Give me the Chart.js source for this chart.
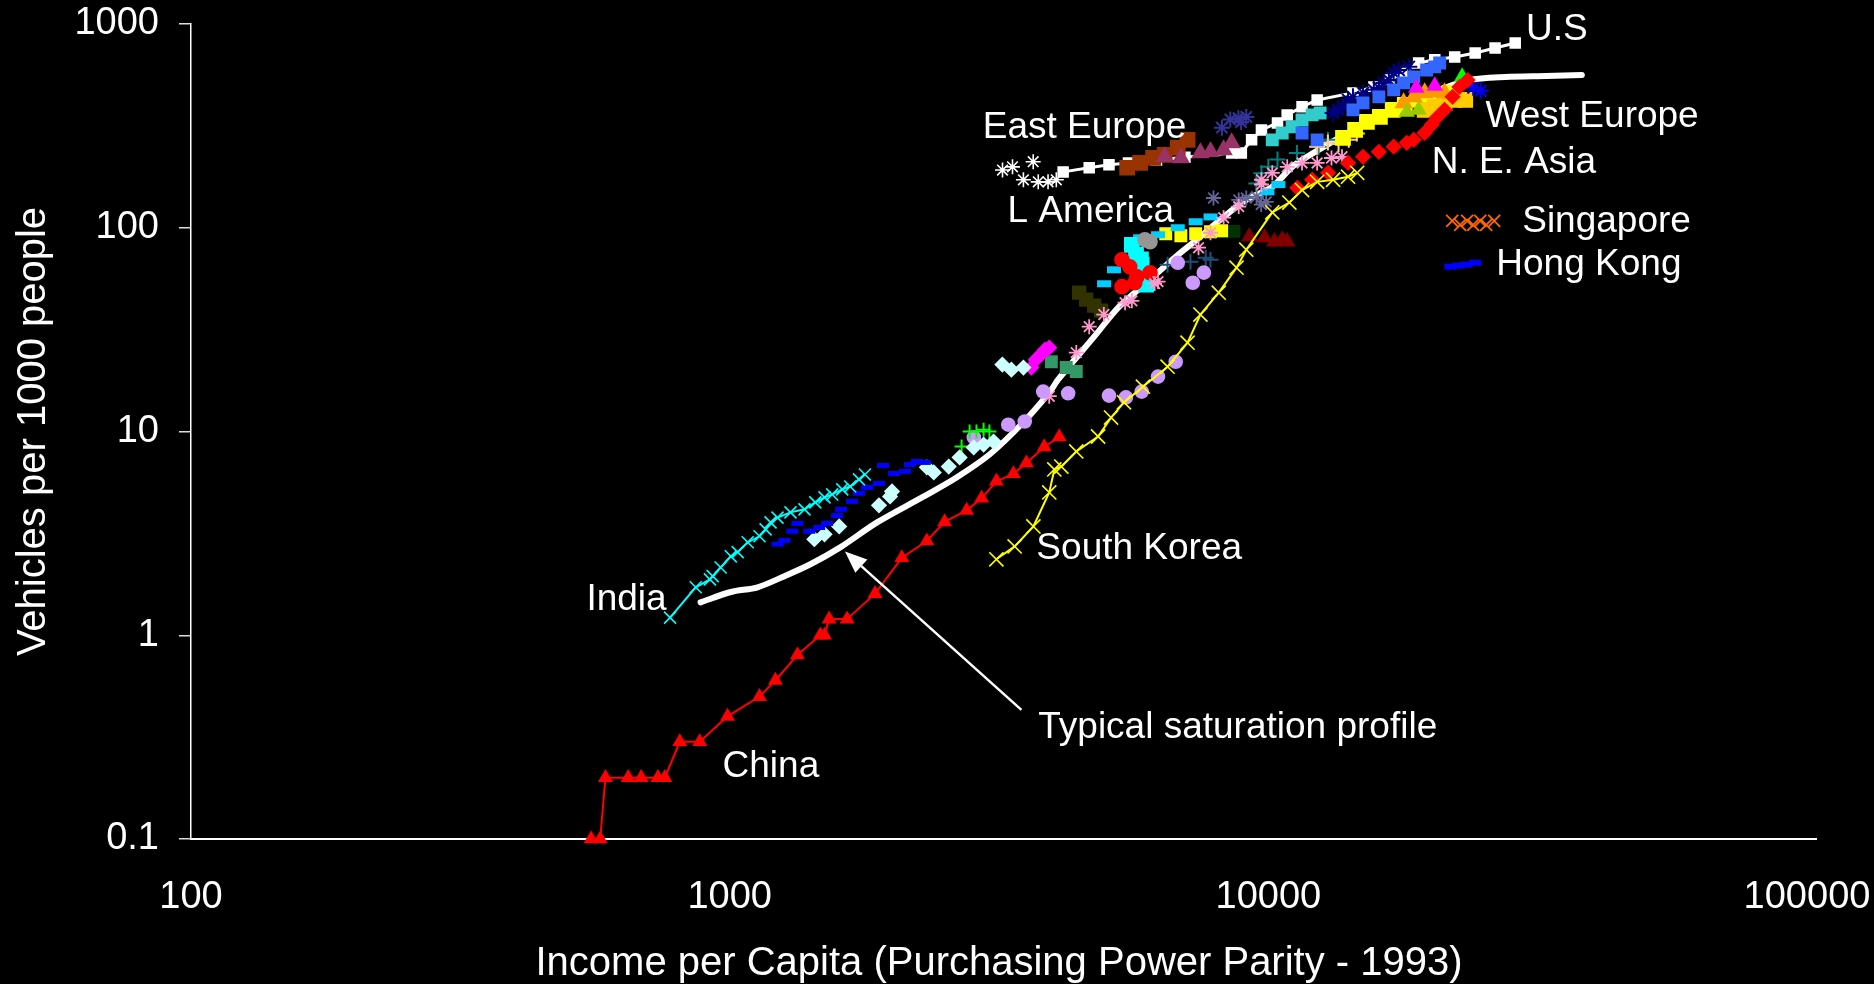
<!DOCTYPE html>
<html>
<head>
<meta charset="utf-8">
<title>Vehicles per 1000 people vs income</title>
<script src="https://cdn.jsdelivr.net/npm/chart.js@4.4.1/dist/chart.umd.min.js"></script>
<style>
  html, body { margin: 0; padding: 0; background: #000; }
</style>
</head>
<body>
<canvas id="ownershipChart" width="1874" height="984"></canvas>
<script>
const xTicks = [100, 1000, 10000, 100000];
const yTicks = [0.1, 1, 10, 100, 1000];

// typical saturation profile (line only)
const profileX = [883, 1005, 1127, 1264, 1412, 1604, 1878, 2293, 2638, 3037, 3510, 3920, 4074, 4750, 5285, 6030, 6730, 7480, 8260, 9100, 10170, 11070, 11800, 13870, 17180, 20370, 23610, 27540, 32810, 38190];
const profileY = [1.45, 1.63, 1.72, 1.95, 2.23, 2.70, 3.58, 4.80, 5.95, 7.71, 11.1, 15.5, 18.0, 29.2, 41.0, 55.6, 72.1, 90.3, 113, 137, 159, 199, 223, 286, 379, 464, 531, 550, 556, 562];

const usX = [4160, 4650, 5060, 5500, 6200, 7000, 8550, 8910, 9310, 9710, 10400, 10840, 11550, 12320, 14360, 15700, 16750, 17830, 19010, 20370, 22180, 24210, 26360, 28730];
const usY = [188, 197, 204, 208, 215, 222, 233, 233, 270, 302, 327, 358, 392, 424, 459, 491, 531, 575, 644, 667, 689, 721, 762, 807];

const chinaX = [553, 575, 588, 648, 685, 736, 758, 808, 880, 991, 1136, 1216, 1336, 1473, 1500, 1530, 1652, 1862, 2088, 2323, 2506, 2754, 2936, 3127, 3363, 3555, 3837, 4090];
const chinaY = [0.1, 0.1, 0.2, 0.2, 0.2, 0.2, 0.2, 0.3, 0.3, 0.4, 0.5, 0.6, 0.8, 1.0, 1.0, 1.2, 1.2, 1.6, 2.4, 2.9, 3.6, 4.1, 4.7, 5.7, 6.2, 7.0, 8.4, 9.4];

const indiaX = [775, 865, 919, 930, 962, 1005, 1035, 1080, 1136, 1166, 1191, 1227, 1297, 1377, 1442, 1500, 1550, 1618, 1674, 1738, 1783];
const indiaY = [1.22, 1.72, 1.88, 1.95, 2.15, 2.44, 2.56, 2.86, 3.06, 3.31, 3.58, 3.78, 4.01, 4.15, 4.49, 4.75, 4.91, 5.20, 5.37, 5.82, 6.15];

const koreaX = [3127, 3381, 3663, 3920, 4006, 4128, 4400, 4830, 5105, 5395, 5850, 6500, 7080, 7480, 8090, 8730, 9100, 10170, 10940, 11550, 12320, 13190, 14060, 14620];
const koreaY = [2.36, 2.73, 3.42, 5.02, 6.51, 6.73, 7.98, 9.45, 11.7, 13.9, 16.6, 20.8, 27.3, 37.5, 48.0, 63.7, 78.0, 119, 133, 153, 168, 172, 178, 186];

const neAsiaX = [11320, 12060, 12910, 14060, 14990, 16040, 17090, 18070, 18620, 19510, 20100, 20530, 21240, 21980, 22630, 23440];
const neAsiaY = [157, 172, 186, 208, 223, 236, 250, 261, 270, 292, 320, 346, 379, 439, 491, 531];

const blueDashX = [1227, 1264, 1307, 1336, 1406, 1466, 1517, 1583, 1611, 1687, 1738, 1800, 1893, 1926, 2019, 2116, 2162, 2227, 2303];
const blueDashY = [2.80, 2.92, 3.24, 3.54, 3.24, 3.38, 3.54, 3.87, 4.15, 4.54, 4.97, 5.31, 5.56, 6.81, 6.22, 6.37, 6.89, 7.13, 7.05];

const paleDiamondX = [1436, 1500, 1597, 1893, 1985, 2002, 2323, 2393, 2551, 2673, 2838, 2961, 3090, 3208, 3334, 3510];
const paleDiamondY = [2.96, 3.13, 3.42, 4.34, 4.80, 5.08, 6.67, 6.30, 6.73, 7.46, 8.35, 8.63, 8.93, 21.3, 20.1, 20.6];

const eastStarX = [3210, 3350, 3510, 3660, 3740, 3900, 4040];
const eastStarY = [192, 199, 172, 211, 168, 168, 172];

const brownX = [5470, 5780, 6110, 6420, 6790, 7080];
const brownY = [197, 208, 220, 228, 247, 270];

const plumX = [6420, 6880, 7480, 7810, 8260, 8550];
const plumY = [223, 220, 233, 236, 241, 261];

const indigoX = [8200, 8500, 8800, 8900, 9100];
const indigoY = [310, 340, 345, 330, 350];

const turquoiseX = [10170, 10610, 11070, 11550, 12060, 12480];
const turquoiseY = [270, 292, 313, 338, 358, 366];

const tealX = [9500, 9710, 10000, 10400, 11300, 12400, 12900];
const tealY = [165, 185, 199, 216, 233, 250, 270];

const peachX = [12320, 12900, 13500, 14100, 14600];
const peachY = [250, 262, 258, 270, 290];

const pinkX = [3920, 4400, 4650, 4950, 5420, 5580, 6150, 6240, 7420, 7810, 8260, 8810, 9710, 9710, 10170, 10840, 11550, 12320, 13100, 13700];
const pinkY = [14.9, 24.4, 32.7, 37.5, 42.9, 43.8, 53.2, 54.4, 79.8, 94.5, 112, 127, 163, 172, 186, 199, 208, 208, 220, 223];

const lavenderX = [2840, 3290, 3530, 3820, 4250, 5060, 5440, 5820, 6240, 6730, 6790, 7240, 7590];
const lavenderY = [9.35, 10.8, 11.2, 15.7, 15.4, 15.0, 14.7, 15.7, 18.6, 22.0, 67.3, 53.7, 60.2];

const greenPlusX = [2695, 2789, 2872, 2961, 3035];
const greenPlusY = [8.44, 10.0, 10.0, 10.2, 10.0];

const magentaX = [3631, 3700, 3791, 3850, 3920];
const magentaY = [20.6, 22.5, 24.0, 25.2, 25.8];

const seaGreenX = [3955, 4215, 4400];
const seaGreenY = [22.0, 20.6, 19.7];

const oliveX = [4454, 4590, 4750, 4890];
const oliveY = [48.0, 44.4, 41.5, 39.2];

const redDotX = [5350, 5530, 5700, 5350, 5650, 6030];
const redDotY = [69.7, 64.4, 57.5, 51.4, 53.7, 60.1];

const cyanBlockX = [5580, 5680, 5820, 5870, 5930, 5800];
const cyanBlockY = [82.5, 73.7, 65.9, 58.9, 52.6, 70.0];

const greyX = [5900, 6030];
const greyY = [87.3, 85.4];

const skyDashX = [4955, 5170, 5780, 6240, 6790, 7330, 7810, 9960, 10440];
const skyDashY = [53.1, 62.2, 89.3, 92.4, 100, 107, 113, 150, 163];

const yellowBandX = [6450, 6880, 7330, 7810, 8190];
const yellowBandY = [93.5, 91.4, 93.5, 95.5, 96.6];

const darkGreenX = [8260, 8630];
const darkGreenY = [95.5, 96.0];

const maroonX = [9220, 9840, 10260, 10610, 10840];
const maroonY = [90.3, 89.3, 85.4, 87.3, 85.4];

const navyPlusX = [6500, 7170, 7650, 7810];
const navyPlusY = [65.9, 68.1, 71.3, 69.7];

const slateX = [7910, 8810, 9100, 9510, 9910, 9700];
const slateY = [140, 137, 140, 142, 134, 130];

const navyStarX = [13190, 13470, 13760, 14060, 14360, 14990, 15700, 16040, 16380, 16740, 17090, 17460, 18230];
const navyStarY = [366, 379, 392, 424, 439, 459, 475, 486, 514, 531, 575, 595, 616];

const royalX = [11550, 12320, 14360, 14990, 16040, 17090, 17830, 18620, 19670, 20370, 20800];
const royalY = [292, 270, 379, 410, 439, 475, 514, 550, 595, 616, 644];

const westYellowX = [13760, 14490, 15240, 16110, 17020, 17920, 19090, 20370, 21690];
const westYellowY = [276, 302, 331, 350, 379, 401, 424, 439, 459];

const orangeX = [17830, 18620, 19510, 20370, 21240];
const orangeY = [410, 439, 459, 464, 459];

const goldX = [19510, 20370, 21240, 22180, 23200];
const goldY = [379, 392, 410, 424, 424];

const limeTriX = [18070, 19010];
const limeTriY = [370, 379];

const greenTriX = [22900];
const greenTriY = [550];

const pinkTriX = [18820, 20370];
const pinkTriY = [486, 497];

const blueStarX = [24000, 24800];
const blueStarY = [486, 470];

// text notes placed in data coordinates
const notes = [
  { text: 'U.S', x: 30100, y: 935 },
  { text: 'West Europe', x: 25300, y: 350 },
  { text: 'East Europe', x: 2950, y: 309 },
  { text: 'N. E. Asia', x: 20100, y: 208 },
  { text: 'L America', x: 3280, y: 120 },
  { text: 'Singapore', x: 29600, y: 107 },
  { text: 'Hong Kong', x: 26500, y: 65.9 },
  { text: 'India', x: 542, y: 1.50 },
  { text: 'South Korea', x: 3710, y: 2.67 },
  { text: 'Typical saturation profile', x: 3740, y: 0.35 },
  { text: 'China', x: 970, y: 0.225 }
];
const arrowFrom = { x: 3480, y: 0.43 };
const arrowTo = { x: 1637, y: 2.58 };

function pts(xs, ys) {
  return xs.map((v, i) => ({ x: v, y: ys[i] }));
}

function marks(label, xs, ys, color, pointStyle, radius, extra) {
  return Object.assign({
    label: label,
    data: pts(xs, ys),
    showLine: false,
    clip: false,
    pointStyle: pointStyle,
    pointRadius: radius,
    pointBackgroundColor: color,
    pointBorderColor: color,
    pointBorderWidth: 1.6,
    borderColor: color,
    backgroundColor: color
  }, extra || {});
}

const datasets = [
  marks('South Korea', koreaX, koreaY, '#FFFF00', 'crossRot', 10, { showLine: true, borderWidth: 2 }),
  marks('China', chinaX, chinaY, '#FF0000', 'triangle', 7, { showLine: true, borderWidth: 2 }),
  marks('India', indiaX, indiaY, '#00FFFF', 'crossRot', 8.5, { showLine: true, borderWidth: 2 }),
  marks('N. E. Asia', neAsiaX, neAsiaY, '#FF0000', 'rectRot', 7),
  marks('Hong Kong', blueDashX, blueDashY, '#0000FF', 'line', 6, { pointBorderWidth: 5 }),
  marks('pale', paleDiamondX, paleDiamondY, '#CCFFFF', 'rectRot', 7),
  marks('green plus', greenPlusX, greenPlusY, '#00FF00', 'cross', 7, { pointBorderWidth: 2 }),
  marks('lavender', lavenderX, lavenderY, '#CC99FF', 'circle', 6.5),
  marks('pink', pinkX, pinkY, '#FF99CC', 'star', 7.5, { pointBorderWidth: 1.8 }),
  marks('magenta', magentaX, magentaY, '#FF00FF', 'rectRot', 7),
  marks('sea green', seaGreenX, seaGreenY, '#339966', 'rect', 8),
  marks('olive', oliveX, oliveY, '#333300', 'rect', 9),
  marks('red dots', redDotX, redDotY, '#FF0000', 'circle', 7),
  marks('grey', greyX, greyY, '#969696', 'circle', 7),
  marks('cyan', cyanBlockX, cyanBlockY, '#00FFFF', 'rect', 10),
  marks('sky', skyDashX, skyDashY, '#00CCFF', 'line', 7, { pointBorderWidth: 7 }),
  marks('navy plus', navyPlusX, navyPlusY, '#1F4E79', 'cross', 8, { pointBorderWidth: 2 }),
  marks('yellow band', yellowBandX, yellowBandY, '#FFFF00', 'rect', 8),
  marks('dark green', darkGreenX, darkGreenY, '#003300', 'rect', 8),
  marks('maroon', maroonX, maroonY, '#800000', 'triangle', 8),
  marks('slate', slateX, slateY, '#666699', 'star', 7.5, { pointBorderWidth: 1.8 }),
  marks('blue star', blueStarX, blueStarY, '#0000FF', 'star', 8, { pointBorderWidth: 2 }),
  marks('green tri', greenTriX, greenTriY, '#00FF00', 'triangle', 8),
  marks('pink tri', pinkTriX, pinkTriY, '#FF00FF', 'triangle', 8),
  marks('lime tri', limeTriX, limeTriY, '#99CC00', 'triangle', 8),
  marks('orange', orangeX, orangeY, '#FF9900', 'triangle', 9),
  marks('gold', goldX, goldY, '#FFCC00', 'rect', 10),
  marks('royal', royalX, royalY, '#3366FF', 'rect', 8),
  marks('navy star', navyStarX, navyStarY, '#000080', 'star', 8.5, { pointBorderWidth: 2 }),
  marks('west yellow', westYellowX, westYellowY, '#FFFF00', 'rect', 10),
  marks('peach', peachX, peachY, '#FFCC99', 'cross', 8, { pointBorderWidth: 2 }),
  marks('teal', tealX, tealY, '#008080', 'cross', 8, { pointBorderWidth: 2 }),
  marks('turquoise', turquoiseX, turquoiseY, '#33CCCC', 'rect', 8),
  marks('indigo', indigoX, indigoY, '#333399', 'star', 8, { pointBorderWidth: 2 }),
  marks('plum', plumX, plumY, '#993366', 'triangle', 9),
  marks('brown', brownX, brownY, '#993300', 'rect', 10),
  marks('east star', eastStarX, eastStarY, '#FFFFFF', 'star', 7.5, { pointBorderWidth: 1.6 }),
  marks('U.S', usX, usY, '#FFFFFF', 'rect', 7, { showLine: true, borderWidth: 3 }),
  {
    label: 'profile',
    data: pts(profileX, profileY),
    showLine: true,
    clip: false,
    borderColor: '#FFFFFF',
    borderWidth: 6,
    pointRadius: 0,
    tension: 0.3,
    borderCapStyle: 'round'
  }
];

const fontFamily = '"Liberation Sans", Arial, sans-serif';
const tickFont = { family: fontFamily, size: 38 };
const titleFont = { family: fontFamily, size: 40 };

const notesPlugin = {
  id: 'notes',
  afterDatasetsDraw(chart) {
    const ctx = chart.ctx;
    const xs = chart.scales.x, ys = chart.scales.y;
    const area = chart.chartArea;
    ctx.save();

    // the x axis line runs a little past the last decade
    ctx.strokeStyle = '#FFFFFF';
    ctx.lineWidth = 2;
    ctx.beginPath();
    ctx.moveTo(area.right - 1, area.bottom);
    ctx.lineTo(area.right + 10, area.bottom);
    ctx.stroke();

    ctx.font = '37px ' + fontFamily;
    ctx.fillStyle = '#FFFFFF';
    ctx.textAlign = 'left';
    ctx.textBaseline = 'middle';
    notes.forEach(n => ctx.fillText(n.text, xs.getPixelForValue(n.x), ys.getPixelForValue(n.y)));

    // arrow pointing at the profile line
    const x0 = xs.getPixelForValue(arrowFrom.x), y0 = ys.getPixelForValue(arrowFrom.y);
    const x1 = xs.getPixelForValue(arrowTo.x), y1 = ys.getPixelForValue(arrowTo.y);
    const ang = Math.atan2(y1 - y0, x1 - x0);
    const head = 22, half = 9;
    const bx = x1 - head * Math.cos(ang), by = y1 - head * Math.sin(ang);
    ctx.lineWidth = 2.5;
    ctx.beginPath();
    ctx.moveTo(x0, y0);
    ctx.lineTo(bx, by);
    ctx.stroke();
    ctx.beginPath();
    ctx.moveTo(x1, y1);
    ctx.lineTo(bx + half * Math.sin(ang), by - half * Math.cos(ang));
    ctx.lineTo(bx - half * Math.sin(ang), by + half * Math.cos(ang));
    ctx.closePath();
    ctx.fill();

    // key swatches next to Singapore / Hong Kong
    const sx = xs.getPixelForValue(29600), sy = ys.getPixelForValue(107);
    ctx.strokeStyle = '#FF6600';
    ctx.lineWidth = 1.8;
    [-70, -62, -55, -49, -42, -36, -28].forEach((dx, i) => {
      const cx = sx + dx, cy = sy + (i % 2 ? 3 : -1), r = 6;
      ctx.beginPath();
      ctx.moveTo(cx - r, cy - r); ctx.lineTo(cx + r, cy + r);
      ctx.moveTo(cx - r, cy + r); ctx.lineTo(cx + r, cy - r);
      ctx.stroke();
    });
    const hx = xs.getPixelForValue(26500), hy = ys.getPixelForValue(65.9);
    ctx.fillStyle = '#0000FF';
    [[-52, 1], [-44, 0], [-36, -1], [-27, -3]].forEach(([dx, dy]) => {
      ctx.fillRect(hx + dx, hy + dy - 2, 12, 6);
    });
    ctx.restore();
  }
};

new Chart(document.getElementById('ownershipChart').getContext('2d'), {
  type: 'scatter',
  data: { datasets: datasets },
  plugins: [notesPlugin],
  options: {
    responsive: false,
    animation: false,
    layout: { padding: { left: 0, top: 24, right: 67, bottom: 0 } },
    plugins: { legend: { display: false }, tooltip: { enabled: false } },
    scales: {
      x: {
        type: 'logarithmic',
        min: 100,
        max: 100000,
        afterBuildTicks: s => { s.ticks = xTicks.map(v => ({ value: v })); },
        afterFit: s => { s.height = 145; s.paddingLeft = 0; s.paddingRight = 0; },
        grid: { display: false, drawTicks: false },
        border: { display: true, color: '#FFFFFF', width: 2 },
        ticks: {
          color: '#FFFFFF', font: tickFont, padding: 36,
          autoSkip: false, maxRotation: 0,
          callback: v => String(v)
        },
        title: {
          display: true, text: 'Income per Capita (Purchasing Power Parity - 1993)',
          color: '#FFFFFF', font: titleFont, padding: { top: 0, bottom: -4 }
        }
      },
      y: {
        type: 'logarithmic',
        min: 0.1,
        max: 1000,
        afterBuildTicks: s => { s.ticks = yTicks.map(v => ({ value: v })); },
        afterFit: s => { s.width = 191; s.paddingTop = 0; s.paddingBottom = 0; },
        grid: { display: true, drawOnChartArea: false, drawTicks: true, tickLength: 12, color: '#DDDDDD', lineWidth: 1.5 },
        border: { display: true, color: '#FFFFFF', width: 1.5 },
        ticks: {
          color: '#FFFFFF', font: tickFont, padding: 20,
          autoSkip: false,
          callback: v => String(v)
        },
        title: {
          display: true, text: 'Vehicles per 1000 people',
          color: '#FFFFFF', font: titleFont, padding: { top: 10, bottom: 0 }
        }
      }
    }
  }
});
</script>
</body>
</html>
